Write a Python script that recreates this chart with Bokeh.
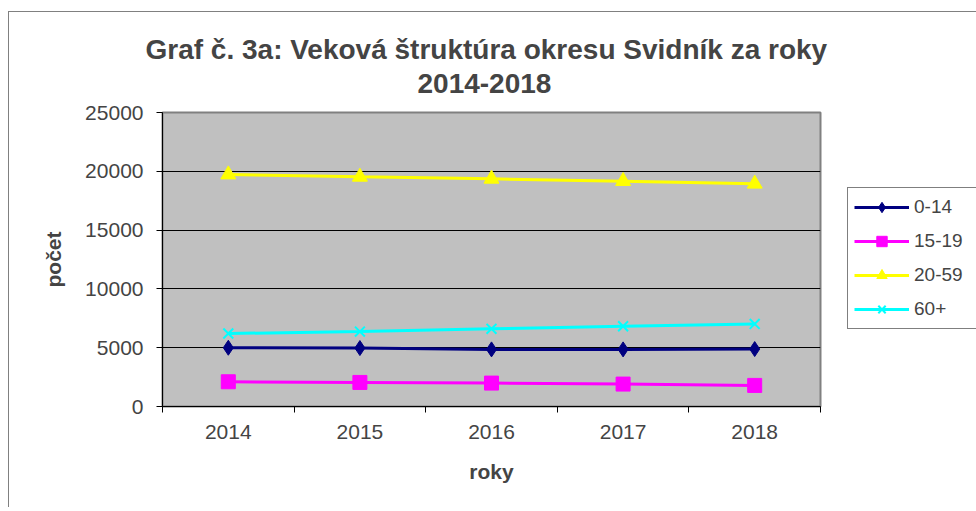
from bokeh.plotting import figure
from bokeh.models import (Range1d, LinearAxis, FixedTicker, Title, Legend, LegendItem)
from bokeh.embed import file_html
from bokeh.resources import INLINE

# ---- data ----
years = [2014, 2015, 2016, 2017, 2018]
year_labels = ["2014", "2015", "2016", "2017", "2018"]
s_0_14 = [4997, 4969, 4857, 4857, 4885]
s_15_19 = [2102, 2046, 1990, 1906, 1793]
s_20_59 = [19724, 19528, 19359, 19163, 18938]
s_60 = [6206, 6374, 6602, 6824, 7021]
series_names = ["0-14", "15-19", "20-59", "60+"]
y_ticks = [0, 5000, 10000, 15000, 20000, 25000]
title_line1 = "Graf č. 3a: Veková štruktúra okresu Svidník za roky"
title_line2 = "2014-2018"

FONT = "Liberation Sans"

p = figure(frame_width=658, frame_height=294,
           min_border_left=153, min_border_right=156,
           min_border_top=100, min_border_bottom=101,
           x_range=Range1d(years[0] - 0.5, years[-1] + 0.5),
           y_range=Range1d(y_ticks[0], y_ticks[-1]),
           x_axis_location=None, y_axis_location=None,
           output_backend="svg", toolbar_location=None)
p.styles = {"margin-top": "11px", "margin-left": "8px",
            "border-left": "1px solid #808080",
            "border-top": "1px solid #808080"}

p.background_fill_color = "#C0C0C0"
p.border_fill_color = "white"
p.outline_line_color = "#808080"
p.outline_line_width = 2

# y axis
yax = LinearAxis(ticker=FixedTicker(ticks=y_ticks))
yax.axis_label = "počet"
yax.axis_label_text_font = FONT
yax.axis_label_text_font_size = "21px"
yax.axis_label_text_font_style = "bold"
yax.axis_label_standoff = 17
yax.major_label_text_font = FONT
yax.major_label_text_font_size = "21px"
yax.major_label_standoff = 13
yax.major_tick_out = 6
yax.major_tick_in = 0
yax.minor_tick_line_color = None
yax.axis_line_color = "black"
yax.major_tick_line_color = "black"
p.add_layout(yax, "left")

# x axis: boundary ticks
bounds = [y - 0.5 for y in years] + [years[-1] + 0.5]
xax1 = LinearAxis(ticker=FixedTicker(ticks=bounds))
xax1.major_label_text_font_size = "0px"
xax1.major_label_standoff = 0
xax1.major_tick_out = 6
xax1.major_tick_in = 0
xax1.minor_tick_line_color = None
xax1.axis_line_color = "black"
xax1.major_tick_line_color = "black"
p.add_layout(xax1, "below")

# x axis: labels
xax2 = LinearAxis(ticker=FixedTicker(ticks=years),
                  major_label_overrides={y: l for y, l in zip(years, year_labels)})
xax2.axis_line_color = None
xax2.major_tick_line_color = None
xax2.minor_tick_line_color = None
xax2.major_tick_out = 0
xax2.major_tick_in = 0
xax2.major_label_text_font = FONT
xax2.major_label_text_font_size = "21px"
xax2.major_label_standoff = 12
xax2.axis_label = "roky"
xax2.axis_label_text_font = FONT
xax2.axis_label_text_font_size = "21px"
xax2.axis_label_text_font_style = "bold"
xax2.axis_label_standoff = 18
p.add_layout(xax2, "below")

# grid
p.xgrid.visible = False
p.ygrid.ticker = FixedTicker(ticks=y_ticks)
p.ygrid.grid_line_color = "black"
p.ygrid.grid_line_width = 1

# titles
t2 = Title(text=title_line2, align="left", text_font=FONT, text_font_size="28px",
           text_font_style="bold", offset=255, standoff=40)
t1 = Title(text=title_line1, align="left", text_font=FONT, text_font_size="28px",
           text_font_style="bold", offset=-17, standoff=-26)
p.add_layout(t2, "above")
p.add_layout(t1, "above")

# series
items = []
specs = [
    (s_0_14, "#000080", "diamond", 15),
    (s_15_19, "#FF00FF", "square", 14),
    (s_20_59, "#FFFF00", "triangle", 15),
    (s_60, "#00FFFF", "x", 14),
]
for name, (vals, col, mk, sz) in zip(series_names, specs):
    lr = p.line(years, vals, line_color=col, line_width=3)
    sr = p.scatter(years, vals, marker=mk, size=sz, fill_color=col, line_color=col,
                   line_width=2 if mk == "x" else 1)
    items.append(LegendItem(label=name, renderers=[lr, sr]))

legend = Legend(items=items, location=(27, 77))
legend.margin = 0
legend.padding = 6
legend.spacing = 8
legend.glyph_height = 26
legend.label_height = 26
legend.glyph_width = 55
legend.label_standoff = 5
legend.label_text_font = FONT
legend.label_text_font_size = "19px"
legend.border_line_color = "black"
legend.border_line_width = 1
legend.background_fill_color = "white"
legend.background_fill_alpha = 1
legend.label_width = 60
p.add_layout(legend, "right")

open("out.html", "w").write(file_html(p, INLINE))
